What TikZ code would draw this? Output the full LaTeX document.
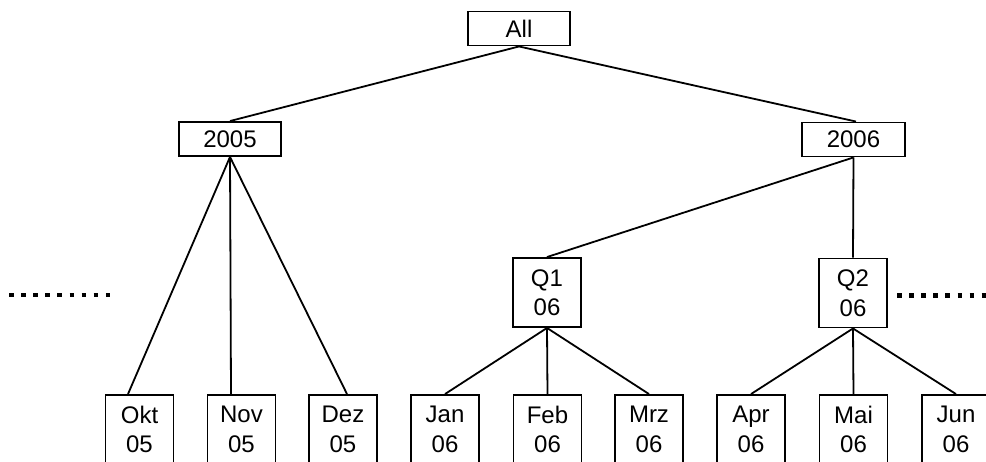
\documentclass[tikz,border=0pt]{standalone}
\usepackage{fontspec}
\setmainfont{Liberation Sans}
\begin{document}
\begin{tikzpicture}[x=1pt,y=-1pt,
  line width=1.9pt,
  every node/.style={draw, line width=1.9pt, inner sep=0pt, align=center,
    font=\fontsize{24}{29.5}\selectfont},
  wide/.style={minimum width=102pt, minimum height=34pt},
  tall/.style={minimum width=68pt, minimum height=69pt},
  edge/.style={line width=1.8pt},
  dots/.style={line width=4.5pt, dash pattern=on 4.5pt off 7.6pt}
]
\useasboundingbox (0,0) rectangle (986,461);

% top levels
\node[wide] (all) at (519,28.5) {All};
\node[wide] (y2005) at (230,139) {2005};
\node[wide, minimum width=103pt] (y2006) at (853.5,139.5) {2006};

% quarters
\node[tall] (q1) at (547,292.5) {Q1\\06};
\node[tall] (q2) at (853,293) {Q2\\06};

% months
\node[tall] (okt) at (139.5,429.5) {Okt\\05};
\node[tall] (nov) at (241.5,429.5) {Nov\\05};
\node[tall] (dez) at (343,429.5) {Dez\\05};
\node[tall] (jan) at (445,429.5) {Jan\\06};
\node[tall] (feb) at (547.5,429.5) {Feb\\06};
\node[tall] (mrz) at (649,429.5) {Mrz\\06};
\node[tall] (apr) at (751,429.5) {Apr\\06};
\node[tall] (mai) at (853.5,429.5) {Mai\\06};
\node[tall] (jun) at (956,429.5) {Jun\\06};

% hierarchy connectors
\draw[edge] (all.south) -- (y2005.north);
\draw[edge] (all.south) -- ([xshift=2.5pt]y2006.north);

\draw[edge] (y2005.south) -- ([xshift=-11.5pt]okt.north);
\draw[edge] (y2005.south) -- ([xshift=-10.5pt]nov.north);
\draw[edge] (y2005.south) -- ([xshift=4pt]dez.north);

\draw[edge] (y2006.south) -- (q1.north);
\draw[edge] (y2006.south) -- (q2.north);

\draw[edge] (q1.south) -- (jan.north);
\draw[edge] (q1.south) -- (feb.north);
\draw[edge] (q1.south) -- (mrz.north);

\draw[edge] (q2.south) -- (apr.north);
\draw[edge] (q2.south) -- (mai.north);
\draw[edge] (q2.south) -- (jun.north);

% elided siblings
\coordinate (lfrom) at (9,295);
\coordinate (lto) at (112,295);
\coordinate (rfrom) at (897,295.5);
\coordinate (rto) at (990,295.5);
\draw[dots] (lfrom) -- (lto);
\draw[dots] (rfrom) -- (rto);
\end{tikzpicture}
\end{document}
